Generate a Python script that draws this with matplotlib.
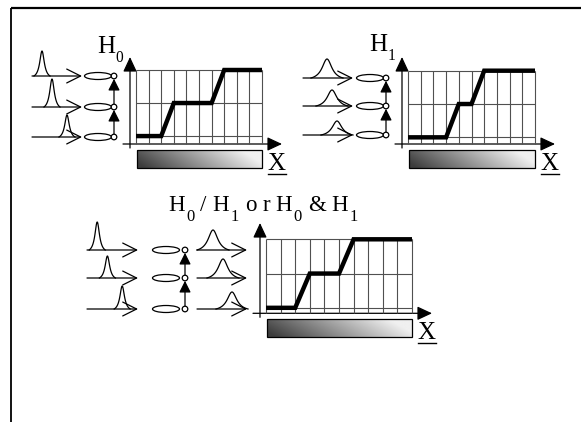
import numpy as np
import matplotlib as mpl
mpl.use('Agg')
import matplotlib.pyplot as plt
from matplotlib.patches import Ellipse, Circle, Rectangle

plt.rcParams['font.family'] = ['Liberation Serif', 'DejaVu Serif']

# step curves (x in grid columns, y in levels)
levels = [0, 1, 2]
n_cols = 10
h0_x = [0, 2, 3, 6, 7, 10]
h0_y = [0, 0, 1, 1, 2, 2]
h1_x = [0, 3, 4, 5, 6, 10]
h1_y = [0, 0, 1, 1, 2, 2]
mix_x = [0, 2, 3, 5, 6, 10]
mix_y = [0, 0, 1, 1, 2, 2]

# peaks: position along the incoming arrow (fraction) and height (px)
h0_peak_pos = [0.2, 0.4, 0.7]
h0_peak_h = [25, 28, 22]
h1_peak_pos = [0.48, 0.58, 0.68]
h1_peak_h = [19, 16, 14]
mix_in_pos = [0.2, 0.4, 0.69]
mix_in_h = [28, 22, 23]
mix_out_pos = [0.32, 0.52, 0.7]
mix_out_h = [20, 19, 17]

# labels: (text, is_subscript)
h0_label = [('H', False), ('0', True)]
h1_label = [('H', False), ('1', True)]
mix_label = [('H', False), ('0', True), ('/', False), ('H', False), ('1', True),
	('o', False), ('r', False), ('H', False), ('0', True), ('&', False),
	('H', False), ('1', True)]

W, H = 581, 422
fig = plt.figure(figsize=(W / 100, H / 100), dpi=100)
bg = fig.add_axes([0, 0, 1, 1])
bg.axis('off')
bg.set_xlim(0, W)
bg.set_ylim(H, 0)
renderer = fig.canvas.get_renderer()

grid_color = '#505050'


def arrow(x0, y0, x1, y1, filled=True, hl=0.9, hw=0.42):
	style = ('-|>' if filled else '->') + ',head_length=%g,head_width=%g' % (hl, hw)
	bg.annotate('', xy=(x1, y1), xytext=(x0, y0),
		arrowprops=dict(arrowstyle=style, color='k', lw=0.9,
			mutation_scale=10, shrinkA=0, shrinkB=0))


def peak(x0, x1, frac, h, y, broad):
	c = x0 + frac * (x1 - x0)
	w, span = (6, 16) if broad else (2.8, 8)
	xx = np.linspace(-span, span, 80)
	lor = 1 / (1 + (xx / w) ** 2)
	base = 1 / (1 + (span / w) ** 2)
	bg.plot(c + xx, y - h * (lor - base) / (1 - base), color='k', lw=0.9)


def rows(rows_y, ax0, ax1, pos, hts, broad, ell_x, circ_x):
	r = 2.8
	for i, y in enumerate(rows_y):
		arrow(ax0, y, ax1, y, filled=False, hl=1.0, hw=0.5)
		peak(ax0, ax1, pos[i], hts[i], y, broad)
		bg.add_patch(Ellipse((ell_x, y), 27, 7, fill=False, lw=0.9, ec='k'))
		bg.add_patch(Circle((circ_x, y), r, fc='white', ec='k', lw=0.9, zorder=3))
	for i in range(len(rows_y) - 1):
		arrow(circ_x, rows_y[i + 1] - r, circ_x, rows_y[i] + r, hl=0.7, hw=0.35)


def label(x, y, tokens, size, sub_scale, drop, width=None):
	# draw tokens one by one; optional spread to a given total width
	texts = []
	for s, sub in tokens:
		t = bg.text(0, 0, s, fontsize=size * (sub_scale if sub else 1),
			ha='left', va='baseline')
		texts.append((t, sub))
	widths = [t.get_window_extent(renderer).width for t, _ in texts]
	# subscripts sit close to their letter
	weights = [0.25 if sub else 1.0 for _, sub in texts[1:]]
	gap = 0.5
	if width is not None:
		gap = (width - sum(widths)) / sum(weights)
	cx = x
	for i, ((t, sub), w) in enumerate(zip(texts, widths)):
		t.set_position((cx, y + (drop if sub else 0)))
		if i + 1 < len(texts):
			cx += w + gap * weights[i]


def step_panel(box, ylo, xs, ys, ytip):
	left, top, right, bottom = box
	ax = fig.add_axes([left / W, 1 - bottom / H, (right - left) / W, (bottom - top) / H])
	ax.set_xlim(0, n_cols)
	ax.set_ylim(ylo, levels[-1])
	ax.axis('off')
	ax.vlines(np.arange(n_cols + 1), ylo, levels[-1], color=grid_color, lw=0.8, clip_on=False)
	ax.hlines(levels, 0, n_cols, color=grid_color, lw=0.8, clip_on=False)
	ax.plot(xs, ys, color='k', lw=3.2, solid_joinstyle='miter', solid_capstyle='butt', clip_on=False)
	# axis arrows
	arrow(left - 13, bottom, right + 20, bottom)
	arrow(left - 6, bottom + 4, left - 6, ytip)
	# gradient bar
	gx = np.linspace(0, 1, 300)[None, :]
	gy = np.linspace(0, 1, 30)[:, None]
	t = np.clip(gx + 0.22 * (1 - gy) - 0.06, 0, 1)
	grad = 0.24 + 0.7 * t
	bg.imshow(grad, extent=(left + 1, right, bottom + 24, bottom + 6), cmap='gray',
		vmin=0, vmax=1, aspect='auto', origin='upper', interpolation='bilinear')
	bg.add_patch(Rectangle((left + 1, bottom + 6), right - left - 1, 18, fill=False, ec='k', lw=0.9))
	bg.text(right + 5, bottom + 26, 'X', fontsize=18, ha='left', va='baseline')
	bg.plot([right + 6, right + 24], [bottom + 29.5, bottom + 29.5], color='k', lw=1)


# panel H0
step_panel((136, 70, 262, 144), -0.24, h0_x, h0_y, 57)
rows([76, 107, 137], 32, 82, h0_peak_pos, h0_peak_h, False, 98, 114)
label(97, 53, h0_label, 18, 0.62, 9)

# panel H1
step_panel((408, 70.7, 535, 144), -0.2, h1_x, h1_y, 57)
rows([78, 106, 135], 303, 353, h1_peak_pos, h1_peak_h, True, 370, 386)
label(369, 51, h1_label, 18, 0.62, 9)

# combined panel
step_panel((266, 239.3, 412, 313.3), -0.16, mix_x, mix_y, 223)
rows([250, 278, 309], 87, 138, mix_in_pos, mix_in_h, False, 166, 185)
for i, y in enumerate([250, 278, 309]):
	arrow(197, y, 247, y, filled=False, hl=1.0, hw=0.5)
	peak(197, 247, mix_out_pos[i], mix_out_h[i], y, True)
label(168, 211, mix_label, 16.5, 0.72, 10, width=190)

# frame
bg.plot([10.5, W], [8, 8], color='k', lw=1.6, solid_capstyle='butt')
bg.plot([10.5, 10.5], [8, H], color='k', lw=1.3, solid_capstyle='butt')

bg.set_xlim(0, W)
bg.set_ylim(H, 0)

fig.savefig('out.png', dpi=100)
